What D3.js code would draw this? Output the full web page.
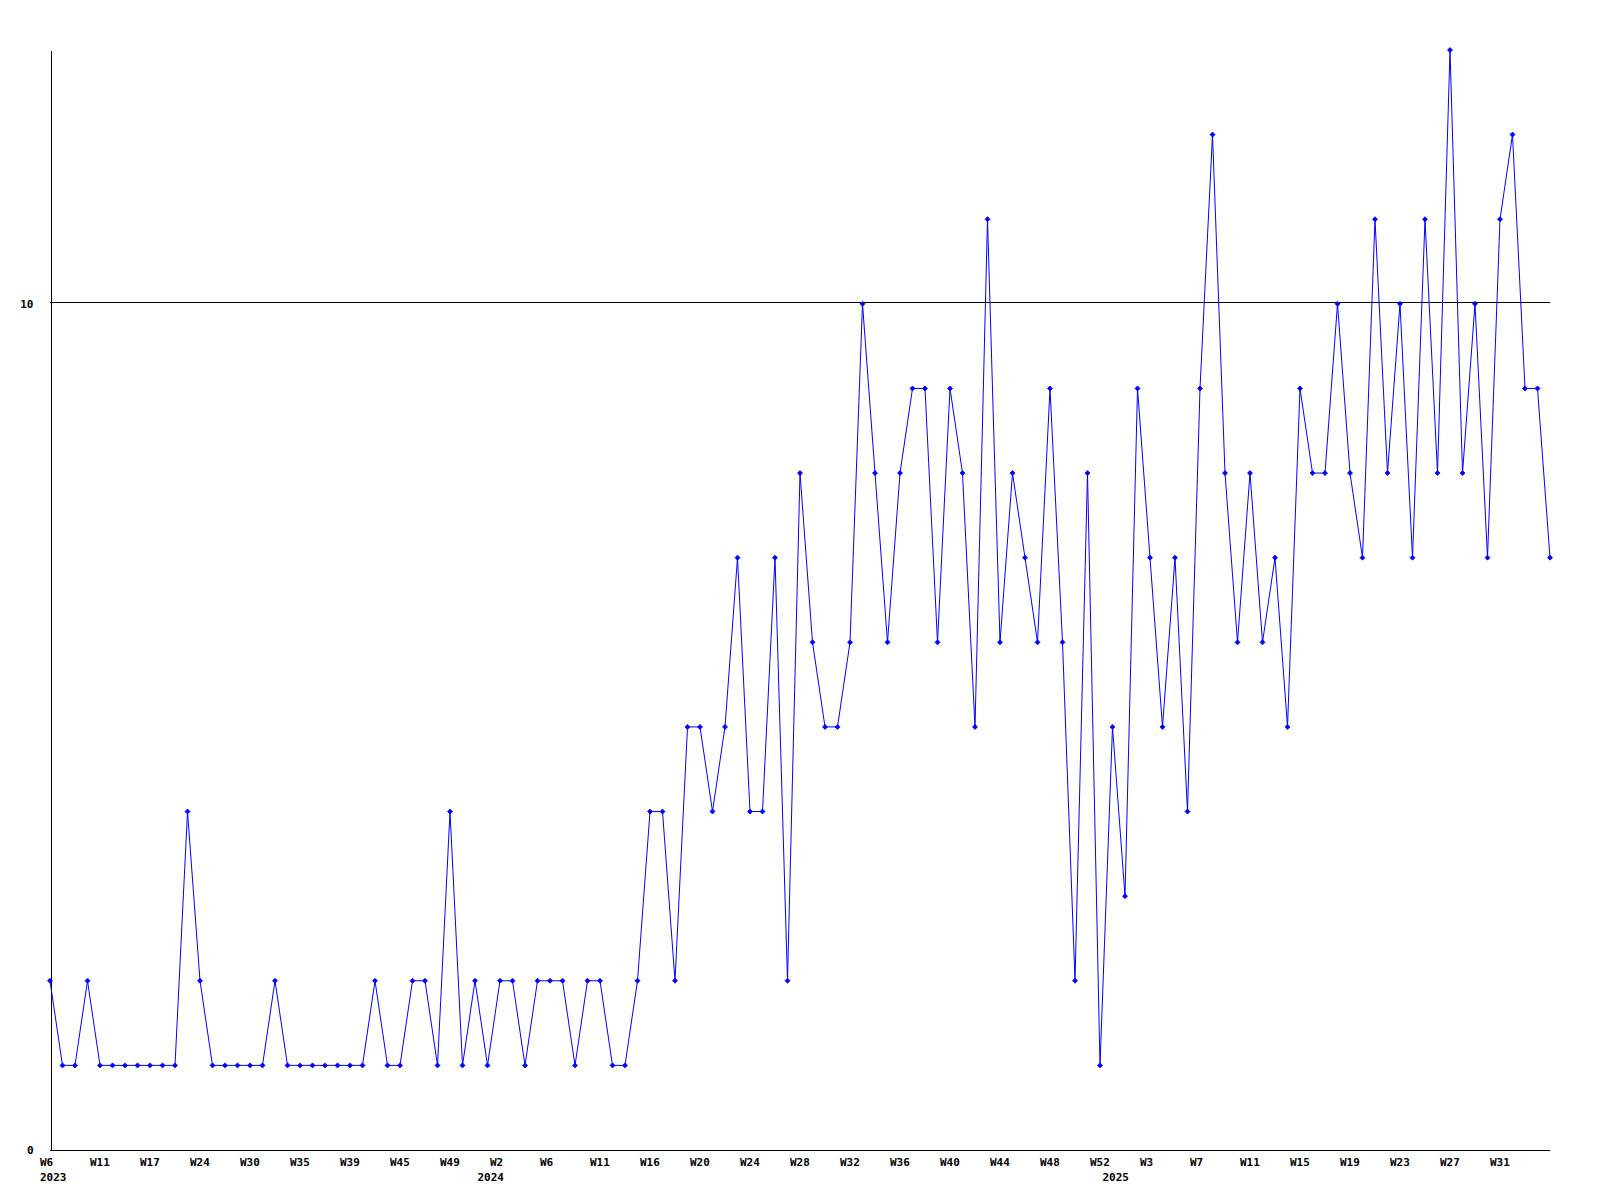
<!DOCTYPE html>
<html>
<head>
<meta charset="utf-8">
<script src="https://cdn.jsdelivr.net/npm/d3@7"></script>
<style>
  html, body { margin: 0; padding: 0; background: #ffffff; }
  svg { display: block; }
  text { font-family: "DejaVu Sans Mono", monospace; font-weight: bold; font-size: 11px; fill: #000; }
</style>
</head>
<body>
<svg id="chart" width="1600" height="1200"></svg>
<script>
// ---- data ----
const weeks2023 = ["W6","W7","W8","W9","W11","W12","W14","W15","W17","W18","W20","W22","W24","W25","W27","W28","W30","W31","W32","W33","W35","W36","W37","W38","W39","W40","W42","W43","W45","W46","W47","W48","W49","W50","W52"];
const weeks2024 = ["W1","W2","W3","W4","W5","W6","W7","W8","W10","W11","W12","W13","W15","W16","W17","W18","W19","W20","W21","W22","W23","W24","W25","W26","W27","W28","W29","W30","W31","W32","W33","W34","W35","W36","W37","W38","W39","W40","W41","W42","W43","W44","W45","W46","W47","W48","W49","W50","W51","W52"];
const weeks2025 = ["W0","W1","W2","W3","W4","W5","W6","W7","W8","W9","W10","W11","W12","W13","W14","W15","W16","W17","W18","W19","W20","W21","W22","W23","W24","W25","W26","W27","W28","W29","W30","W31","W32","W33","W34","W35"];
const values = [
  2,1,1,2,1,1,1,1,1,1,1,4,2,1,1,1,1,1,2,1,1,1,1,1,1,1,2,1,1,2,2,1,4,1,2,
  1,2,2,1,2,2,2,1,2,2,1,1,2,4,4,2,5,5,4,5,7,4,4,7,2,8,6,5,5,6,10,8,6,8,9,9,6,9,8,5,11,6,8,7,6,9,6,2,8,1,
  5,3,9,7,5,7,4,9,12,8,6,8,6,7,5,9,8,8,10,8,7,11,8,10,7,11,8,13,8,10,7,11,12,9,9,7
];
const yTickValues = [0, 10];
const labelEvery = 4;

(function () {
  // categories
  const categories = [];
  weeks2023.forEach(w => categories.push({year: "2023", week: w}));
  weeks2024.forEach(w => categories.push({year: "2024", week: w}));
  weeks2025.forEach(w => categories.push({year: "2025", week: w}));
  const keys = categories.map(c => c.year + "-" + c.week);
  const data = keys.map((k, i) => ({key: k, cat: categories[i], value: values[i], i}));

  // ---- layout ----
  const mLeft = 50, mRight = 1550, mTop = 50, mBottom = 1150;
  const svg = d3.select("#chart");

  const x = d3.scalePoint().domain(keys).range([mLeft, mRight]);
  const y = d3.scaleLinear().domain([0, 13]).range([mBottom, mTop]);

  // gridline at 10
  svg.append("g")
    .selectAll("line")
    .data(yTickValues.filter(v => v > 0))
    .join("line")
    .attr("x1", mLeft).attr("x2", mRight)
    .attr("y1", d => Math.floor(y(d)) - 0.5).attr("y2", d => Math.floor(y(d)) - 0.5)
    .attr("stroke", "#000").attr("stroke-width", 1).attr("shape-rendering", "crispEdges");

  // y axis
  const yAxis = svg.append("g")
    .attr("transform", `translate(${mLeft + 0.5},0)`)
    .call(d3.axisLeft(y).tickValues(yTickValues).tickSize(0).tickPadding(17).tickFormat(d3.format("d")));
  yAxis.select(".domain").attr("stroke", "#000").attr("shape-rendering", "crispEdges");
  yAxis.selectAll("text").attr("font-family", null).attr("font-size", null);

  // x axis line
  svg.append("line")
    .attr("x1", mLeft).attr("x2", mRight)
    .attr("y1", mBottom + 0.5).attr("y2", mBottom + 0.5)
    .attr("stroke", "#000").attr("shape-rendering", "crispEdges");

  // x labels
  const tickData = data.filter(d => d.i % labelEvery === 0 && d.i < data.length - 1);
  svg.append("g").selectAll("text")
    .data(tickData)
    .join("text")
    .attr("x", d => x(d.key) - 10)
    .attr("y", mBottom + 16)
    .text(d => d.cat.week);

  // year labels at first week of each year
  const yearStarts = data.filter((d, i) => i === 0 || data[i - 1].cat.year !== d.cat.year);
  svg.append("g").selectAll("text")
    .data(yearStarts)
    .join("text")
    .attr("x", d => x(d.key) - 10)
    .attr("y", mBottom + 31)
    .text(d => d.cat.year);

  // line
  const line = d3.line().x(d => x(d.key)).y(d => y(d.value));
  svg.append("path")
    .datum(data)
    .attr("d", line)
    .attr("fill", "none")
    .attr("stroke", "#0000ff")
    .attr("stroke-width", 1);

  // markers (small diamonds)
  svg.append("g").selectAll("path")
    .data(data)
    .join("path")
    .attr("transform", d => `translate(${x(d.key)},${y(d.value)})`)
    .attr("d", "M0,-2.5L2.5,0L0,2.5L-2.5,0Z")
    .attr("fill", "#0000ff")
    .attr("stroke", "#0000ff")
    .attr("stroke-width", 0.8);
})();
</script>
</body>
</html>
